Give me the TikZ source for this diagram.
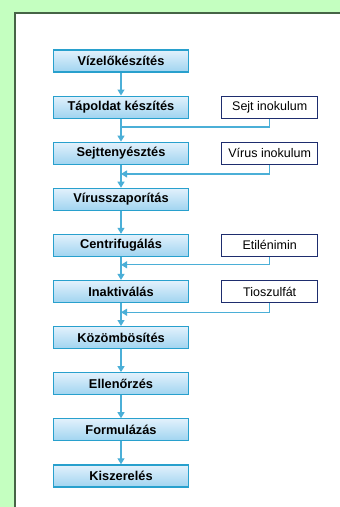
\documentclass[tikz,border=0pt]{standalone}
\usepackage{fontspec}
\setmainfont{Liberation Sans}
\usetikzlibrary{positioning,arrows.meta,calc}
\definecolor{hatter}{RGB}{196,255,192}
\definecolor{keret}{RGB}{70,100,70}
\definecolor{lepesszel}{RGB}{40,160,205}
\definecolor{lepesfent}{RGB}{226,241,252}
\definecolor{lepeslent}{RGB}{160,212,240}
\definecolor{adalekszel}{RGB}{30,45,110}
\definecolor{vonalszin}{RGB}{75,175,215}
\tikzstyle{Lepes}=[rectangle, draw=lepesszel, line width=1.2pt, top color=lepesfent, bottom color=lepeslent, minimum width=135pt, minimum height=22pt, inner sep=0pt, font=\fontsize{12.8}{14}\selectfont\bfseries]
\tikzstyle{Adalek}=[rectangle, draw=adalekszel, fill=white, line width=1.2pt, minimum width=96pt, minimum height=22pt, inner sep=0pt, font=\fontsize{12.5}{14}\selectfont]
\tikzstyle{Vonal}=[draw=vonalszin, line width=1.2pt]
\tikzstyle{Nyil}=[-{Triangle[width=7pt,length=6pt]}, draw=vonalszin, line width=1.2pt]

\begin{document}
\begin{tikzpicture}[x=1pt,y=-1pt]
			%Hatter
			\useasboundingbox (0,0) rectangle (340,507);
			\fill[hatter] (0,0) rectangle (340,507);
			\fill[white] (15,13) rectangle (340,507);
			\draw[keret, line width=2pt] (15,507) -- (15,13) -- (340,13);

			%Lepesek
			\node[Lepes]		(viz)		at (121,61)					{Vízelőkészítés};
			\node[Lepes]		(tap)		[below=22.9pt of viz]		{Tápoldat készítés};
			\node[Lepes]		(sejt)		[below=22.9pt of tap]		{Sejttenyésztés};
			\node[Lepes]		(virsz)		[below=22.9pt of sejt]		{Vírusszaporítás};
			\node[Lepes]		(centr)		[below=22.9pt of virsz]		{Centrifugálás};
			\node[Lepes]		(inakt)		[below=22.9pt of centr]		{Inaktiválás};
			\node[Lepes]		(kozom)		[below=22.9pt of inakt]		{Közömbösítés};
			\node[Lepes]		(ellen)		[below=22.9pt of kozom]		{Ellenőrzés};
			\node[Lepes]		(formu)		[below=22.9pt of ellen]		{Formulázás};
			\node[Lepes]		(kisz)		[below=22.9pt of formu]		{Kiszerelés};

			%Adalekok
			\node[Adalek]		(sejtinok)	[right=32pt of tap]			{Sejt inokulum};
			\node[Adalek]		(virinok)	[right=32pt of sejt]		{Vírus inokulum};
			\node[Adalek]		(etil)		[right=32pt of centr]		{Etilénimin};
			\node[Adalek]		(tiosz)		[right=32pt of inakt]		{Tioszulfát};

			%Csatlakozasok
			\coordinate (be1) at ($(tap.south)!0.36!(sejt.north)$);
			\coordinate (be2) at ($(sejt.south)!0.4!(virsz.north)$);
			\coordinate (be3) at ($(centr.south)!0.34!(inakt.north)$);
			\coordinate (be4) at ($(inakt.south)!0.4!(kozom.north)$);

			%Vonalak
			\draw[Nyil] (viz) -- (tap);
			\draw[Nyil] (tap) -- (sejt);
			\draw[Nyil] (sejt) -- (virsz);
			\draw[Nyil] (virsz) -- (centr);
			\draw[Nyil] (centr) -- (inakt);
			\draw[Nyil] (inakt) -- (kozom);
			\draw[Nyil] (kozom) -- (ellen);
			\draw[Nyil] (ellen) -- (formu);
			\draw[Nyil] (formu) -- (kisz);

			\draw[Vonal] (sejtinok.south) |- (be1);
			\draw[Nyil] (virinok.south) |- (be2);
			\draw[Nyil] (etil.south) |- (be3);
			\draw[Nyil] (tiosz.south) |- (be4);

		\end{tikzpicture}
\end{document}
